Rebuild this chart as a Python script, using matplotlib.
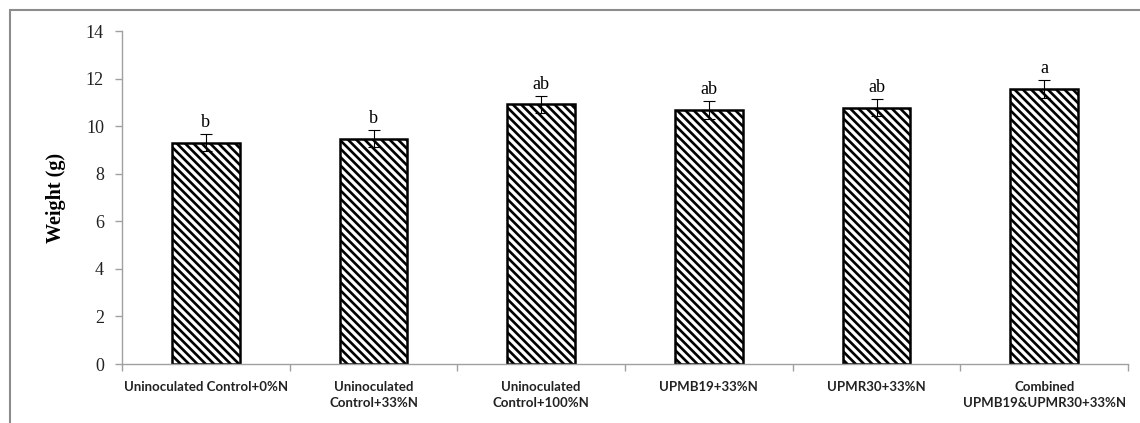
import matplotlib
matplotlib.use("Agg")
import matplotlib.pyplot as plt
from matplotlib.patches import Rectangle

# data
treatments = ["Uninoculated Control+0%N", "Uninoculated\nControl+33%N",
              "Uninoculated\nControl+100%N", "UPMB19+33%N", "UPMR30+33%N",
              "Combined\nUPMB19&UPMR30+33%N"]
weight = [9.31, 9.48, 10.92, 10.68, 10.78, 11.58]
se = [0.35, 0.35, 0.36, 0.39, 0.35, 0.38]
letters = ["b", "b", "ab", "ab", "ab", "a"]

plt.rcParams['hatch.linewidth'] = 1.9
W, H = 1140, 423
fig = plt.figure(figsize=(W / 100, H / 100), dpi=100)
ax = fig.add_axes([122 / W, 1 - 364 / H, (1128 - 122) / W, (364 - 31) / H])

# outer frame of the original figure
fig.patches.append(Rectangle((10 / W, -0.1), 1.2, 1.1 - 10 / H, transform=fig.transFigure,
                             fill=False, edgecolor="#8c8c8c", linewidth=1.5))

x = list(range(len(treatments)))
ax.bar(x, weight, width=0.405, color="white", edgecolor="black", linewidth=1.8,
       hatch="\\\\\\\\", zorder=2)
ax.errorbar(x, weight, yerr=se, fmt="none", ecolor="black", elinewidth=0.8,
            capsize=4, capthick=0.8, zorder=3)
for xi, w, e, lab in zip(x, weight, se, letters):
    ax.annotate(lab, (xi, w + e), xytext=(0, 2), textcoords="offset points",
                ha="center", va="bottom", fontsize=13, family="Liberation Serif")

ax.set_xlim(-0.5, len(treatments) - 0.5)
ax.set_ylim(0, 14)
ax.set_yticks(range(0, 15, 2))
ax.set_xticks(x)
ax.set_xticklabels(treatments, fontsize=9.5, family="Lato", fontweight="bold",
                   color="#222222", linespacing=1.45)
ax.set_xticks([i - 0.5 for i in range(len(treatments) + 1)], minor=True)
ax.tick_params(axis="x", which="major", length=0, pad=12)
ax.tick_params(axis="x", which="minor", length=5, color="#a0a0a0", width=1)
ax.tick_params(axis="y", length=5, color="#a0a0a0", width=1, pad=8)
for t in ax.get_yticklabels():
    t.set_fontsize(13)
    t.set_family("Liberation Serif")
    t.set_color("#222222")

ax.set_ylabel("Weight (g)", fontsize=14.5, family="Liberation Serif",
              fontweight="bold", labelpad=14)
for s in ["top", "right"]:
    ax.spines[s].set_visible(False)
for s in ["left", "bottom"]:
    ax.spines[s].set_color("#a0a0a0")
    ax.spines[s].set_linewidth(1)

fig.savefig("out.png", dpi=100)
